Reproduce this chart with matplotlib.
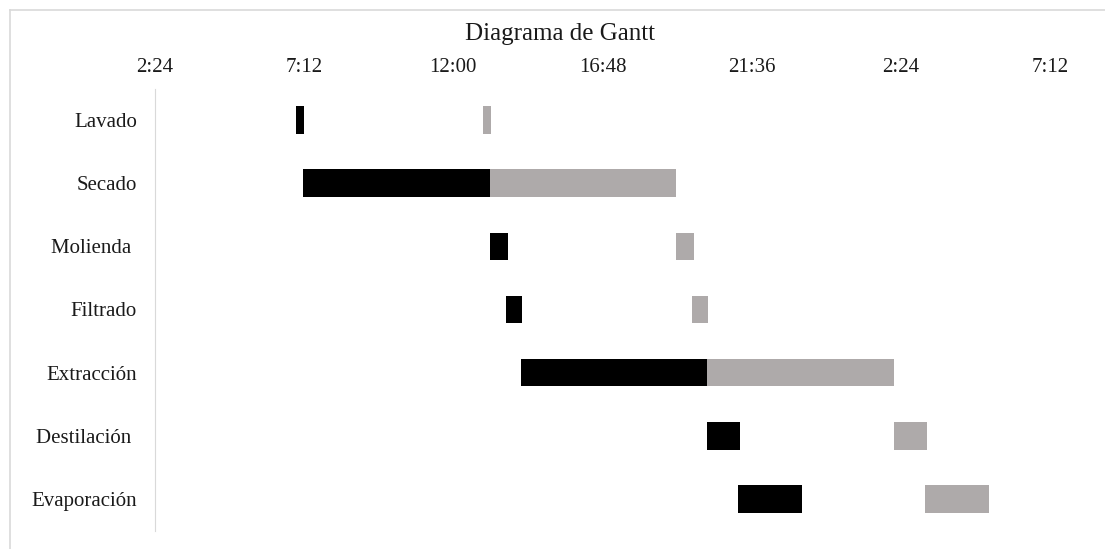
import matplotlib.pyplot as plt
from matplotlib.lines import Line2D
from matplotlib.ticker import FuncFormatter

# etapas del proceso (horas desde las 0:00 del primer día)
etapas = ['Lavado', 'Secado', 'Molienda ', 'Filtrado', 'Extracción', 'Destilación ', 'Evaporación']
inicio_lote1 = [6.95, 7.17, 13.17, 13.68, 14.17, 20.17, 21.17]
inicio_lote2 = [12.95, 13.17, 19.17, 19.68, 20.17, 26.17, 27.17]
duracion = [0.25, 6.0, 0.58, 0.52, 6.0, 1.06, 2.06]

W, H = 1105, 549
fig = plt.figure(figsize=(W / 100, H / 100), dpi=100)
plt.rcParams['font.family'] = ['Liberation Serif', 'DejaVu Serif']

ax = fig.add_axes([155 / W, 1 - 530.5 / H, (1050 - 155) / W, (530.5 - 88.5) / H])

y = range(len(etapas))
ax.barh(y, duracion, left=inicio_lote1, height=0.435, color='#000000')
ax.barh(y, duracion, left=inicio_lote2, height=0.435, color='#AEAAAA')

ax.set_xlim(2.4, 31.2)
ax.set_ylim(len(etapas) - 0.5, -0.5)
ax.set_xticks([2.4 + 4.8 * i for i in range(7)])


def hora(x, pos):
    minutos = int(round(x * 60)) % (24 * 60)
    return f'{minutos // 60}:{minutos % 60:02d}'


ax.xaxis.set_major_formatter(FuncFormatter(hora))
ax.xaxis.tick_top()
ax.set_yticks(list(y))
ax.set_yticklabels(etapas)
ax.tick_params(axis='x', length=0, pad=8, labelsize=15, colors='#1a1a1a')
ax.tick_params(axis='y', length=0, pad=13, labelsize=15, colors='#1a1a1a')
for s in ['top', 'right', 'bottom']:
    ax.spines[s].set_visible(False)
ax.spines['left'].set_color('#d9d9d9')

fig.text(560 / W, 1 - 34 / H, 'Diagrama de Gantt', ha='center', va='center',
         fontsize=18, color='#1a1a1a')

# borde del área del gráfico
fig.add_artist(Line2D([10 / W, 1], [1 - 10 / H, 1 - 10 / H], color='#d9d9d9', lw=1.2))
fig.add_artist(Line2D([10 / W, 10 / W], [0, 1 - 10 / H], color='#d9d9d9', lw=1.2))

fig.savefig('out.png', dpi=100)
